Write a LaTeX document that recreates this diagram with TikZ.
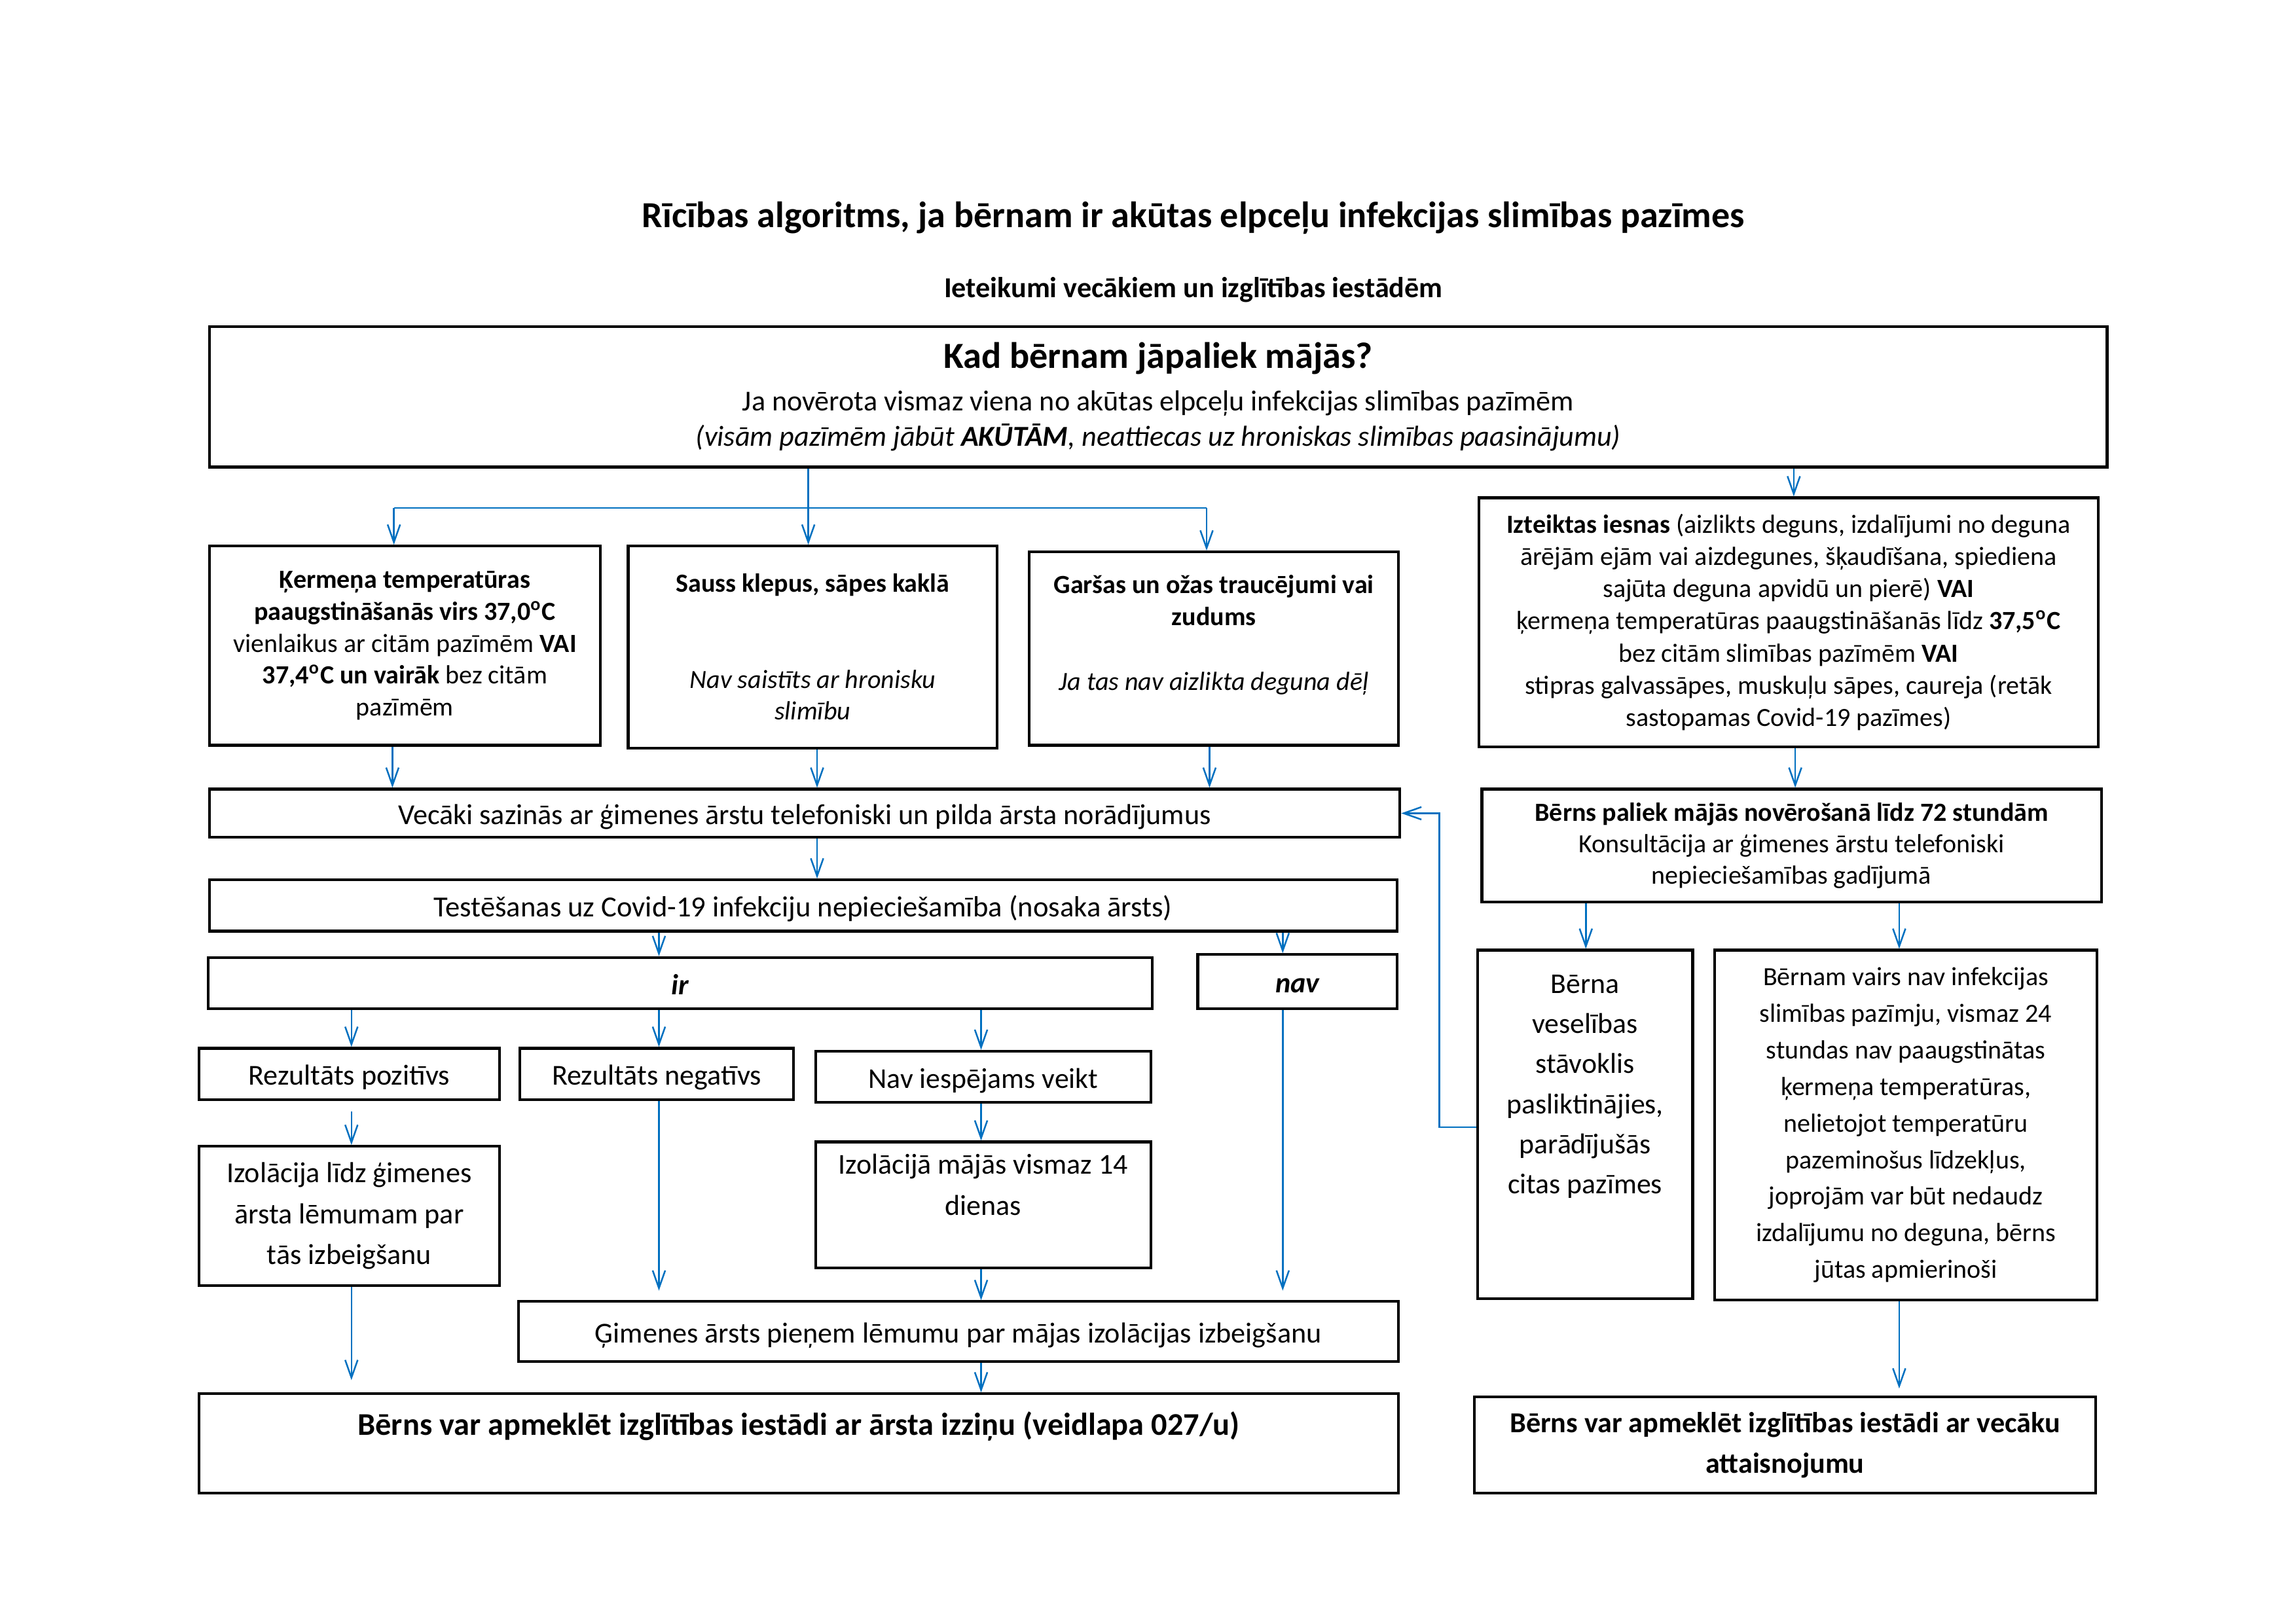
\documentclass[tikz,border=0pt]{standalone}
\usepackage{fontspec}
\setmainfont{Carlito}
\usetikzlibrary{arrows.meta}
\definecolor{arrblue}{RGB}{0,112,192}
\newcommand\fs[2]{\fontsize{#1}{#2}\selectfont}
\newcommand\degc{\textsuperscript{o}C}
\tikzset{
  box/.style={draw=black, line width=1pt, align=center, inner sep=2pt},
  oneline/.style={text height=8.8pt, text depth=0.5pt},
  ln/.style={draw=arrblue, line width=0.6pt},
  arr/.style={ln, -{Straight Barb[length=6.5pt,width=4.6pt]}},
}
% name, x1, y1, x2, y2, style, text
\newcommand\bx[7]{%
  \pgfmathsetmacro\cx{(#2+#4)/2}\pgfmathsetmacro\cy{(#3+#5)/2}%
  \pgfmathsetmacro\ww{(#4-#2)*0.5368}\pgfmathsetmacro\hh{(#5-#3)*0.5368}%
  \node[box,#6,minimum width=\ww pt,minimum height=\hh pt] (#1) at (\cx,\cy) {#7};}
\begin{document}
\begin{tikzpicture}[x=0.5368pt,y=-0.5368pt]
\fill[white] (0,0) rectangle (1568,1109);
\useasboundingbox (0,0) rectangle (1568,1109);

\node[font=\fs{13.45}{15}\bfseries] (title) at (815,149) {Rīcības algoritms, ja bērnam ir akūtas elpceļu infekcijas slimības pazīmes};
\node[font=\fs{10.6}{12}\bfseries] (subtitle) at (815,198) {Ieteikumi vecākiem un izglītības iestādēm};

\bx{top}{143}{223}{1439}{319}{font=\fs{10.6}{13}}{{\fs{13.5}{16}\bfseries Kad bērnam jāpaliek mājās?}\\[2.5pt]Ja novērota vismaz viena no akūtas elpceļu infekcijas slimības pazīmēm\\\textit{(visām pazīmēm jābūt \textbf{AKŪTĀM}, neattiecas uz hroniskas slimības paasinājumu)}}

\bx{K}{143}{373}{410}{509}{font=\fs{9.6}{11.7}}{\textbf{Ķermeņa temperatūras}\\\textbf{paaugstināšanās virs 37,0\degc}\\vienlaikus ar citām pazīmēm \textbf{VAI}\\\textbf{37,4\degc\ un vairāk} bez citām\\pazīmēm}
\bx{S}{429}{373}{681}{511}{font=\fs{9.6}{11.7}}{\textbf{Sauss klepus, sāpes kaklā}\\[23.4pt]\textit{Nav saistīts ar hronisku}\\\textit{slimību}}
\bx{G}{703}{377}{955}{509}{font=\fs{9.6}{11.8}}{\textbf{Garšas un ožas traucējumi vai}\\\textbf{zudums}\\[11.8pt]\textit{Ja tas nav aizlikta deguna dēļ}\\\mbox{}}
\bx{I}{1010}{340}{1433}{510}{font=\fs{9.6}{11.8}}{\textbf{Izteiktas iesnas} (aizlikts deguns, izdalījumi no deguna\\ārējām ejām vai aizdegunes, šķaudīšana, spiediena\\sajūta deguna apvidū un pierē) \textbf{VAI}\\ķermeņa temperatūras paaugstināšanās līdz \textbf{37,5\degc}\\bez citām slimības pazīmēm \textbf{VAI}\\stipras galvassāpes, muskuļu sāpes, caureja (retāk\\sastopamas Covid-19 pazīmes)}

\bx{V}{143}{539}{956}{572}{font=\fs{10.6}{12},oneline}{Vecāki sazinās ar ģimenes ārstu telefoniski un pilda ārsta norādījumus}
\bx{T}{143}{601}{954}{636}{font=\fs{10.7}{12},oneline}{Testēšanas uz Covid-19 infekciju nepieciešamība (nosaka ārsts)}
\bx{ir}{142}{654}{787}{689}{font=\fs{10.6}{12}\bfseries\itshape,oneline}{ir}
\bx{nav}{818}{652}{954}{689}{font=\fs{10.6}{12}\bfseries\itshape,oneline}{nav}
\bx{pos}{136}{716}{341}{751}{font=\fs{10.6}{12},oneline}{Rezultāts pozitīvs}
\bx{neg}{355}{716}{542}{751}{font=\fs{10.6}{12},oneline}{Rezultāts negatīvs}
\bx{niv}{557}{718}{786}{753}{font=\fs{10.5}{12},oneline}{Nav iespējams veikt}
\bx{izl}{136}{783}{341}{878}{font=\fs{10.6}{15}}{Izolācija līdz ģimenes\\ārsta lēmumam par\\tās izbeigšanu}
\bx{izm}{557}{780}{786}{866}{font=\fs{10.55}{15}}{Izolācijā mājās vismaz 14\\dienas\\\mbox{}}
\bx{gim}{354}{889}{955}{930}{font=\fs{10.6}{12},oneline}{Ģimenes ārsts pieņem lēmumu par mājas izolācijas izbeigšanu}
\bx{bA}{136}{952}{955}{1020}{font=\fs{11.6}{15}\bfseries}{Bērns var apmeklēt izglītības iestādi ar ārsta izziņu (veidlapa 027/u)\\\mbox{}}

\bx{P}{1012}{539}{1435}{616}{font=\fs{9.6}{11.5}}{\textbf{Bērns paliek mājās novērošanā līdz 72 stundām}\\Konsultācija ar ģimenes ārstu telefoniski\\nepieciešamības gadījumā}
\bx{BV}{1009}{649}{1156}{887}{font=\fs{10.5}{14.7}}{Bērna\\veselības\\stāvoklis\\pasliktinājies,\\parādījušās\\citas pazīmes\\\mbox{}\\\mbox{}}
\bx{VR}{1171}{649}{1432}{888}{font=\fs{9.6}{13.4}}{Bērnam vairs nav infekcijas\\slimības pazīmju, vismaz 24\\stundas nav paaugstinātas\\ķermeņa temperatūras,\\nelietojot temperatūru\\pazeminošus līdzekļus,\\joprojām var būt nedaudz\\izdalījumu no deguna, bērns\\jūtas apmierinoši}
\bx{bB}{1007}{954}{1431}{1020}{font=\fs{10.6}{15}\bfseries}{Bērns var apmeklēt izglītības iestādi ar vecāku\\attaisnojumu}

% x positions of connectors
\coordinate (jn) at (552,347);
\coordinate (xK) at (269,0);
\coordinate (xG) at (824,0);
\coordinate (xI) at (1225,0);
\coordinate (xK2) at (268,0);
\coordinate (xS2) at (558,0);
\coordinate (xG2) at (826,0);
\coordinate (x450) at (450,0);
\coordinate (x876) at (876,0);
\coordinate (x240) at (240,0);
\coordinate (x670) at (670,0);
\coordinate (xP) at (1226,0);
\coordinate (x1083) at (1083,0);
\coordinate (x1297) at (1297,0);
\coordinate (fb) at (983,770);

% top -> three symptom boxes
\draw[arr] (top.south -| jn) -- (S.north -| jn);
\draw[ln] (jn -| xK) -- (jn -| xG);
\draw[arr] (jn -| xK) -- (K.north -| xK);
\draw[arr] (jn -| xG) -- (G.north -| xG);
\draw[arr] (top.south -| xI) -- (I.north -| xI);

% symptoms -> V
\draw[arr] (K.south -| xK2) -- (V.north -| xK2);
\draw[arr] (S.south -| xS2) -- (V.north -| xS2);
\draw[arr] (G.south -| xG2) -- (V.north -| xG2);
\draw[arr] (V.south -| xS2) -- (T.north -| xS2);
\draw[arr] (T.south -| x450) -- (ir.north -| x450);
\draw[arr] (T.south -| x876) -- (nav.north -| x876);

\draw[arr] (ir.south -| x240) -- (pos.north -| x240);
\draw[arr] (ir.south -| x450) -- (neg.north -| x450);
\draw[arr] (ir.south -| x670) -- (niv.north -| x670);
\draw[arr, shorten <=4pt] (pos.south -| x240) -- (izl.north -| x240);
\draw[arr] (niv.south -| x670) -- (izm.north -| x670);
\draw[arr, shorten >=3.5pt] (neg.south -| x450) -- (gim.north -| x450);
\draw[arr, shorten >=3.5pt] (nav.south -| x876) -- (gim.north -| x876);
\draw[arr] (izm.south -| x670) -- (gim.north -| x670);
\draw[arr, shorten >=4.5pt] (izl.south -| x240) -- (bA.north -| x240);
\draw[arr] (gim.south -| x670) -- (bA.north -| x670);

% right column
\draw[arr] (I.south -| xP) -- (P.north -| xP);
\draw[arr] (P.south -| x1083) -- (BV.north -| x1083);
\draw[arr] (P.south -| x1297) -- (VR.north -| x1297);
\draw[arr, shorten >=2.5pt] (VR.south -| x1297) -- (bB.north -| x1297);
\draw[arr] (BV.west |- fb) -- (fb) |- (V.east);
\end{tikzpicture}
\end{document}
